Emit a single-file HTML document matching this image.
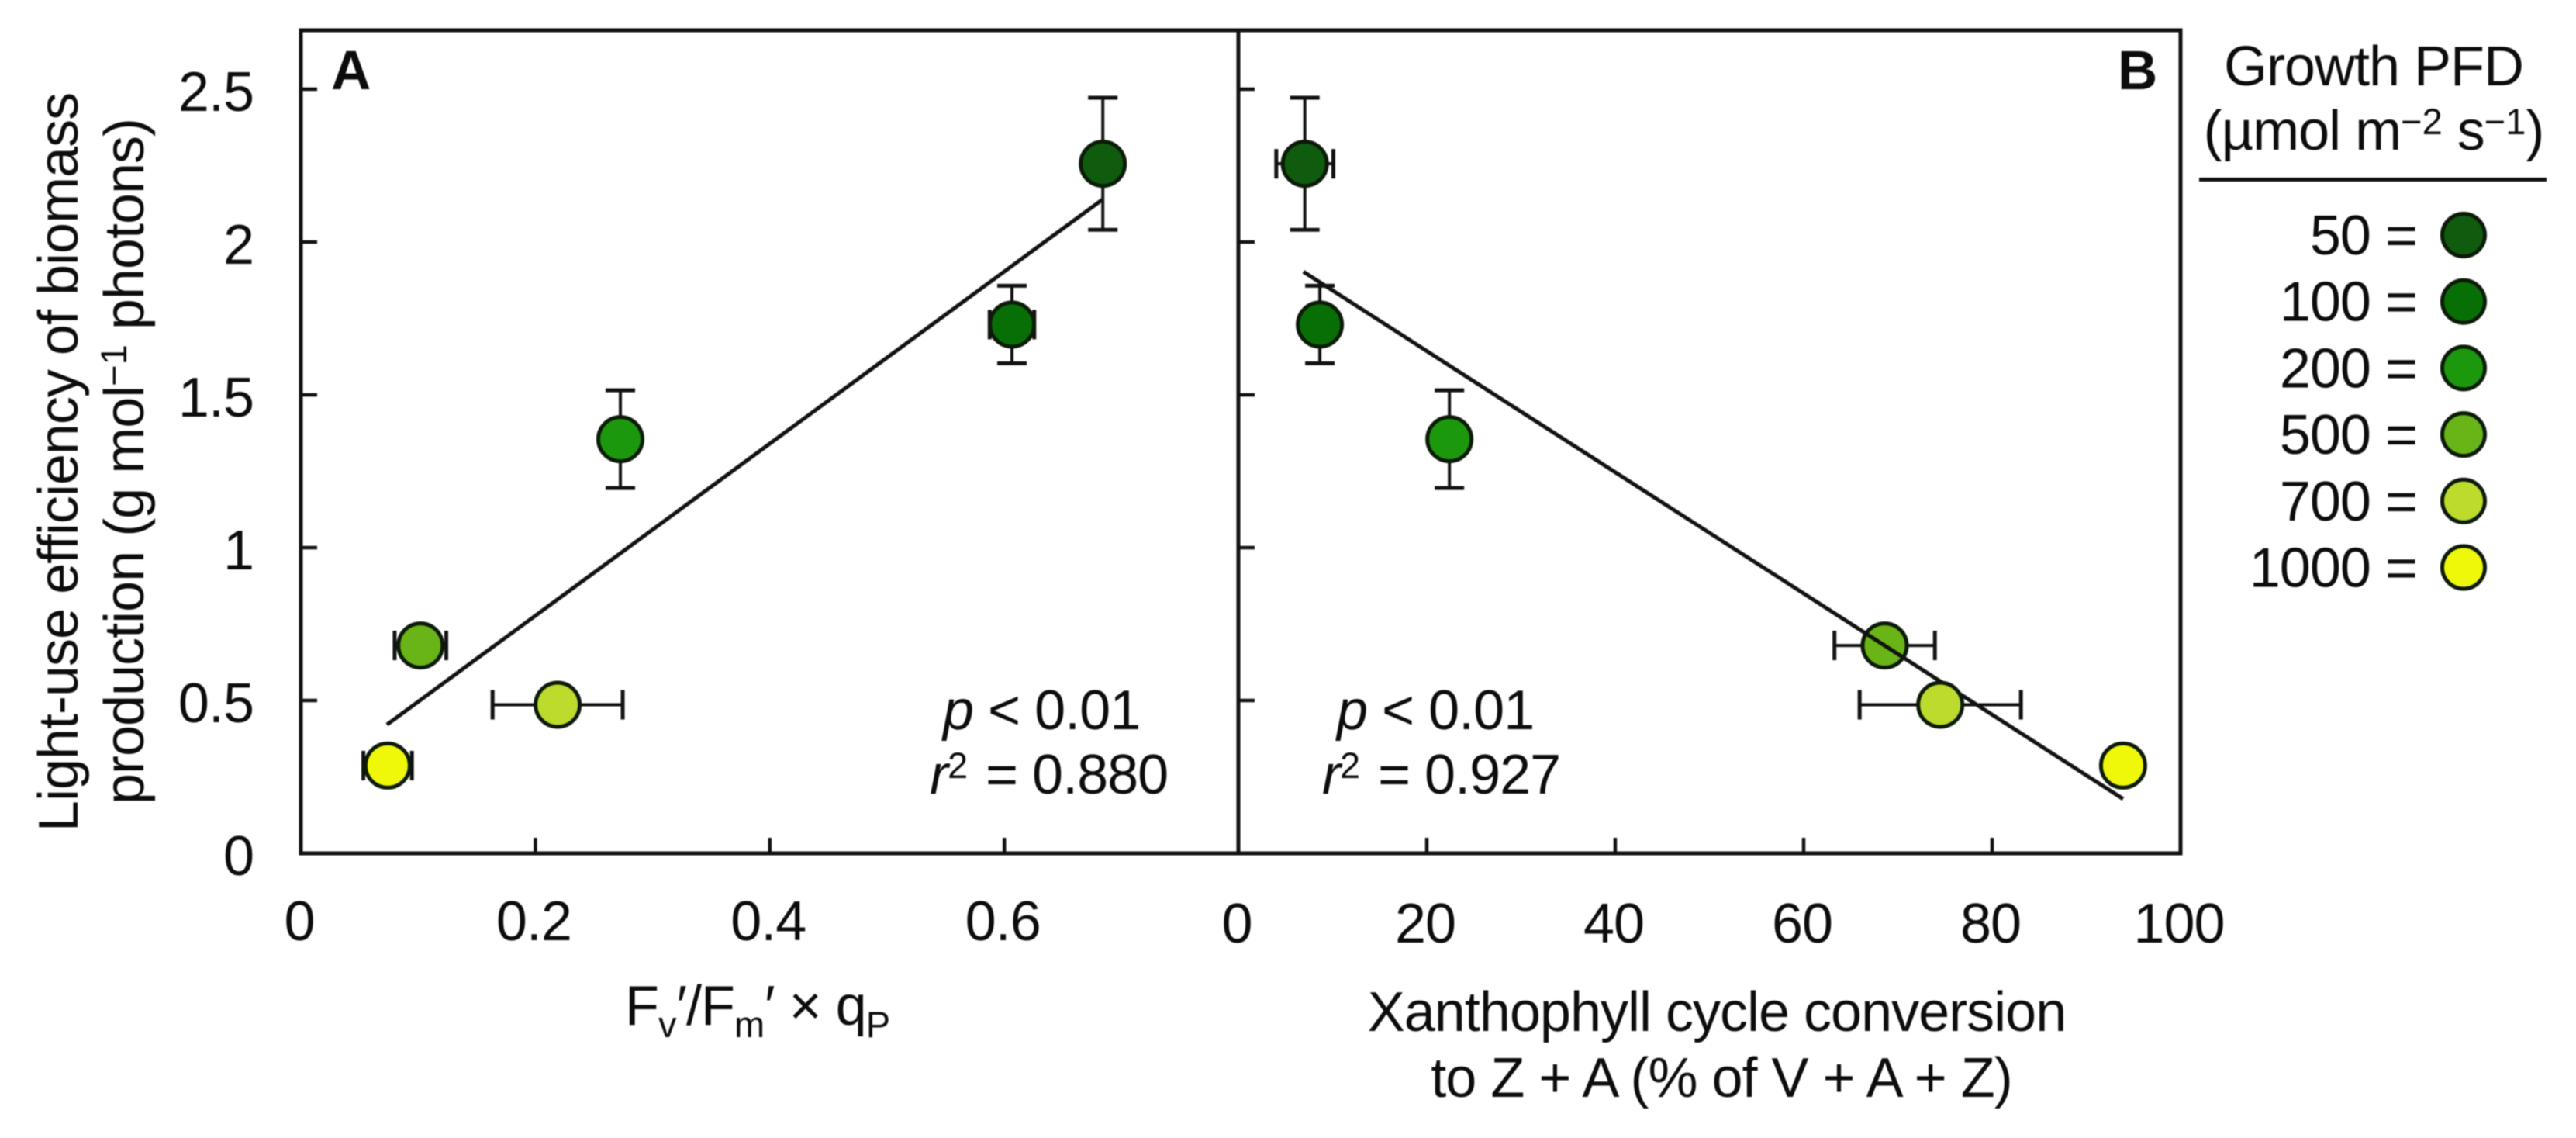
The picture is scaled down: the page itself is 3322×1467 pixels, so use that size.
<!DOCTYPE html>
<html>
<head>
<meta charset="utf-8">
<title>Light-use efficiency vs photoprotection</title>
<style>
html,body{margin:0;padding:0;background:#fff;}
svg{display:block;filter:blur(0.7px);}
text{font-family:"Liberation Sans",sans-serif;fill:#0c0c0c;font-size:72px;letter-spacing:-1px;}
.sup{font-size:47px;letter-spacing:0;}
.it{font-style:italic;}
.panel-label{font-weight:bold;font-size:71px;letter-spacing:0;}
</style>
</head>
<body>
<svg id="chart" xmlns="http://www.w3.org/2000/svg" width="3322" height="1467" viewBox="0 0 3322 1467">
  <rect x="0" y="0" width="3322" height="1467" fill="#fff"/>
  <g id="panels"></g>

  <text class="panel-label" x="427" y="115">A</text>
  <text class="panel-label" x="2731" y="115">B</text>

  <text transform="translate(100,596) rotate(-90)" text-anchor="middle">Light-use efficiency of biomass</text>
  <text transform="translate(185,595) rotate(-90)" text-anchor="middle">production (g mol<tspan class="sup" dy="-22">−1</tspan><tspan dy="22"> photons)</tspan></text>

  <text x="806" y="1321">F<tspan class="sup" dy="16">v</tspan><tspan dy="-16">′/F</tspan><tspan class="sup" dy="16">m</tspan><tspan dy="-16">′ × q</tspan><tspan class="sup" dy="16">P</tspan></text>
  <text x="2214" y="1329" text-anchor="middle">Xanthophyll cycle conversion</text>
  <text x="2220" y="1414" text-anchor="middle">to Z + A (% of V + A + Z)</text>

  <text x="1216" y="940"><tspan class="it">p</tspan> &lt; 0.01</text>
  <text x="1199" y="1023"><tspan class="it">r</tspan><tspan class="sup" dy="-20">2</tspan><tspan x="1271" dy="20">= 0.880</tspan></text>
  <text x="1724" y="940"><tspan class="it">p</tspan> &lt; 0.01</text>
  <text x="1705" y="1023"><tspan class="it">r</tspan><tspan class="sup" dy="-20">2</tspan><tspan x="1777" dy="20">= 0.927</tspan></text>

  <text x="3061" y="110" text-anchor="middle">Growth PFD</text>
  <text x="3061" y="193" text-anchor="middle">(µmol m<tspan class="sup" dy="-20">−2</tspan><tspan dy="20"> s</tspan><tspan class="sup" dy="-20">−1</tspan><tspan dy="20">)</tspan></text>
  <line x1="2836" x2="3284" y1="231.5" y2="231.5" stroke="#111" stroke-width="5"/>
  <g id="legend"></g>
</svg>

<script>
// Data
const pfdLevels = [50, 100, 200, 500, 700, 1000];
const lightUseEfficiency = [2.256, 1.73, 1.355, 0.68, 0.486, 0.287];
const efficiencyError = [0.216, 0.127, 0.16, 0, 0, 0];
const fvFmQp = [0.684, 0.6065, 0.2725, 0.102, 0.219, 0.074];
const fvFmQpError = [0, 0.019, 0, 0.022, 0.0555, 0.0207];
const xanthophyll = [7.05, 8.65, 22.4, 68.6, 74.5, 93.9];
const xanthophyllError = [3.03, 0, 0, 5.33, 8.56, 0];
const pointColors = ["#0f5c0e", "#076f06", "#1c980c", "#69b416", "#bcdb2c", "#f0f80a"];
const fitLineAX = [0.0734, 0.684];
const fitLineAY = [0.421, 2.14];
const fitLineBX = [6.9, 93.9];
const fitLineBY = [1.903, 0.178];
const yTicks = [0, 0.5, 1, 1.5, 2, 2.5];
const yTickLabels = ["0", "0.5", "1", "1.5", "2", "2.5"];
const xTicksA = [0, 0.2, 0.4, 0.6];
const xTickLabelsA = ["0", "0.2", "0.4", "0.6"];
const xTicksB = [0, 20, 40, 60, 80, 100];
const xTickLabelsB = ["0", "20", "40", "60", "80", "100"];

// Axis functions
const PLOT_TOP = 39;
const PLOT_BOTTOM = 1100;
const yScale = v => 1100 - 394 * v;
const xScaleA = v => 388 + 1512 * v;
const xScaleB = v => 1597 + 12.15 * v;

const NS = "http://www.w3.org/2000/svg";
const panels = document.getElementById("panels");
const legend = document.getElementById("legend");

function make(tag, attrs, parent) {
  const el = document.createElementNS(NS, tag);
  for (const k in attrs) el.setAttribute(k, attrs[k]);
  parent.appendChild(el);
  return el;
}
function drawLine(x1, y1, x2, y2, w, parent) {
  return make("line", { x1: x1, y1: y1, x2: x2, y2: y2, stroke: "#111", "stroke-width": w }, parent);
}
function drawPoint(i, xs, xScale, parent) {
  const c = make("circle", { cx: xScale(xs[i]), cy: yScale(lightUseEfficiency[i]), r: 28.5, fill: pointColors[i], stroke: "#0c1a08", "stroke-width": 5 }, parent);
  
  
}

function drawErrorBars(xs, xErr, xScale, parent) {
  const CAP = 19;
  xs.forEach((xv, i) => {
    const cx = xScale(xv);
    const cy = yScale(lightUseEfficiency[i]);
    const g = make("g", {}, parent);
    
    
    if (efficiencyError[i] > 0) {
      const hi = yScale(lightUseEfficiency[i] + efficiencyError[i]);
      const lo = yScale(lightUseEfficiency[i] - efficiencyError[i]);
      drawLine(cx, hi, cx, lo, 4, g);
      drawLine(cx - CAP, hi, cx + CAP, hi, 5, g);
      drawLine(cx - CAP, lo, cx + CAP, lo, 5, g);
    }
    if (xErr[i] > 0) {
      const l = xScale(xv - xErr[i]);
      const r = xScale(xv + xErr[i]);
      drawLine(l, cy, r, cy, 4, g);
      drawLine(l, cy - CAP, l, cy + CAP, 5, g);
      drawLine(r, cy - CAP, r, cy + CAP, 5, g);
    }
  });
}

// Frame
const frame = make("rect", { x: 388, y: PLOT_TOP, width: 2424, height: PLOT_BOTTOM - PLOT_TOP, fill: "none", stroke: "#111", "stroke-width": 5 }, panels);


const divider = drawLine(1597, PLOT_TOP, 1597, PLOT_BOTTOM, 5, panels);



// Y ticks (both panels) and labels (panel A only)
yTicks.forEach((v, i) => {
  if (v > 0) {
    const t1 = drawLine(388, yScale(v), 409, yScale(v), 4.5, panels);
    
    
    const t2 = drawLine(1597, yScale(v), 1618, yScale(v), 4.5, panels);
    
    
  }
  const lab = make("text", { x: 327, y: yScale(v) + 28, "text-anchor": "end" }, panels);
  lab.textContent = yTickLabels[i];
  
  
});

// X ticks
function drawXAxis(ticks, labels, xScale, suffix) {
  ticks.forEach((v, i) => {
    const x = xScale(v);
    if (i > 0 && i < ticks.length - (suffix === 'b' ? 1 : 0)) {
      const t = drawLine(x, PLOT_BOTTOM, x, PLOT_BOTTOM - 20, 4.5, panels);
      
      
    }
    const lab = make("text", { x: x - 2, y: suffix === 'b' ? 1215 : 1212, "text-anchor": "middle" }, panels);
    lab.textContent = labels[i];
    
    
  });
}
drawXAxis(xTicksA, xTickLabelsA, xScaleA, 'a');
drawXAxis(xTicksB, xTickLabelsB, xScaleB, 'b');

// Panel A series
const seriesA = make("g", {}, panels);


drawErrorBars(fvFmQp, fvFmQpError, xScaleA, seriesA);
const fitA = drawLine(xScaleA(fitLineAX[0]), yScale(fitLineAY[0]), xScaleA(fitLineAX[1]), yScale(fitLineAY[1]), 5, seriesA);


fvFmQp.forEach((_, i) => drawPoint(i, fvFmQp, xScaleA, seriesA));

// Panel B series (the 500 point sits under the fit line, the others over it)
const seriesB = make("g", {}, panels);


drawErrorBars(xanthophyll, xanthophyllError, xScaleB, seriesB);
drawPoint(3, xanthophyll, xScaleB, seriesB);
const fitB = drawLine(xScaleB(fitLineBX[0]), yScale(fitLineBY[0]), xScaleB(fitLineBX[1]), yScale(fitLineBY[1]), 5, seriesB);


xanthophyll.forEach((_, i) => { if (i !== 3) drawPoint(i, xanthophyll, xScaleB, seriesB); });

// Legend
pfdLevels.forEach((lvl, i) => {
  const y = 303 + i * 85.7;
  const entry = make("g", {}, legend);
  
  
  const t = make("text", { x: 3117, y: y + 25, "text-anchor": "end" }, entry);
  t.textContent = lvl + " =";
  
  
  const c = make("circle", { cx: 3177, cy: y, r: 27.5, fill: pointColors[i], stroke: "#0c1a08", "stroke-width": 5 }, entry);
  
  
});
</script>
</body>
</html>
